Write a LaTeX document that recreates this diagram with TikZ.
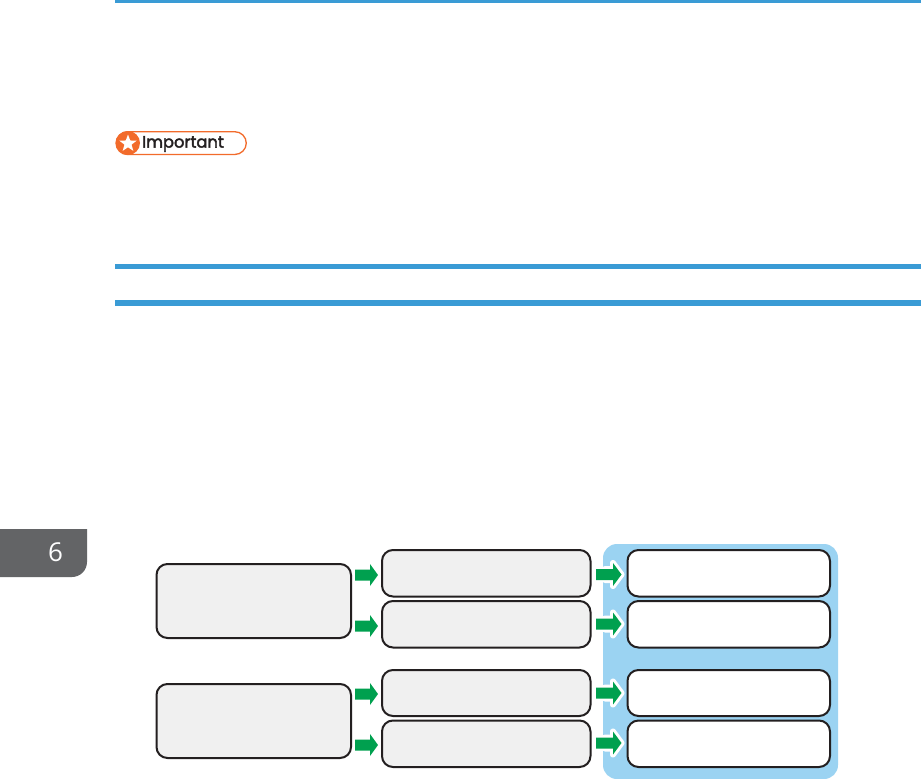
\documentclass[tikz,border=0pt]{standalone}
\usepackage{fontspec}
\setmainfont{Poppins}
\newfontfamily\tabfont{Open Sans}
\newfontfamily\badgefont[FakeBold=2.5]{Poppins}
\usetikzlibrary{shapes.geometric}
\definecolor{rulec}{HTML}{3A9BD5}
\definecolor{bluep}{HTML}{9BD3F2}
\definecolor{greya}{HTML}{F0F0F0}
\definecolor{edgec}{HTML}{231F20}
\definecolor{greenc}{HTML}{00A04F}
\definecolor{orangec}{HTML}{F26B2B}
\definecolor{tabc}{HTML}{636466}
\tikzset{
  x=1pt,y=-1pt,
  box/.style={draw=edgec,line width=2pt,rounded corners=11pt},
  grey/.style={box,fill=greya},
  whitebox/.style={box,fill=white},
  rulebar/.style={fill=rulec,draw=none},
  gr/.style={fill=greenc,draw=none},
  halo/.style={fill=white,draw=white,line width=6pt,line join=round},
}
\newcommand{\arrowshape}[2]{% tip x, centre y
  (#1-23,#2-5.5) -- (#1-8,#2-5.5) -- (#1-8,#2-11) -- (#1,#2) -- (#1-8,#2+11) -- (#1-8,#2+5.5) -- (#1-23,#2+5.5) -- cycle}
\newcommand{\rightarrowshape}[1]{% centre y; body starts on the grey box side
  (596,#1-5.5) -- (613,#1-5.5) -- (613,#1-11.5) -- (621.5,#1) -- (613,#1+11.5) -- (613,#1+5.5) -- (596,#1+5.5) -- cycle}
\newcommand{\haloshape}[1]{%
  (605,#1-5.5) -- (613,#1-5.5) -- (613,#1-11.5) -- (621.5,#1) -- (613,#1+11.5) -- (613,#1+5.5) -- (605,#1+5.5) -- cycle}
\begin{document}
\begin{tikzpicture}
\useasboundingbox (0,0) rectangle (921,779);
\fill[white] (0,0) rectangle (921,779);
\fill[rulebar] (115,0) rectangle (921,3);
\fill[rulebar] (115,263.5) rectangle (921,268.5);
\fill[rulebar] (115,300) rectangle (921,305.5);
% tab
\fill[tabc] (0,529) -- (87,529) -- (87,562) arc[start angle=0,end angle=90,radius=15] -- (0,577) -- cycle;
\node[text=white,font=\tabfont\fontsize{26}{26}\selectfont,anchor=center] (tabnum) at (55.5,552.5) {6};
% badge
\draw[orangec,line width=1.3pt,fill=white,rounded corners=11.5pt] (116,131.7) rectangle (246.3,154.5);
\fill[orangec] (128,143) circle[radius=12];
\node[star,star points=5,star point ratio=2.4,fill=white,inner sep=0pt,minimum size=18pt,draw=none] (badgestar) at (128,143.5) {};
\node[anchor=west,inner sep=0pt,text=edgec,font=\badgefont\fontsize{16.3}{16.3}\selectfont] (badgetext) at (142,144) {Important};
% panel
\fill[bluep,rounded corners=14pt] (603,544) rectangle (838,779);
% boxes
\draw[grey] (156.5,564) rectangle (351,638);
\draw[grey] (156.5,684) rectangle (351,758);
\draw[grey] (382,550) rectangle (590.5,596.5);
\draw[grey] (382,601) rectangle (590.5,647.5);
\draw[grey] (382,670) rectangle (590.5,716);
\draw[grey] (382,720.5) rectangle (590.5,767);
\draw[whitebox] (627.5,550) rectangle (830,596.5);
\draw[whitebox] (627.5,601) rectangle (830,647.5);
\draw[whitebox] (627.5,670) rectangle (830,716);
\draw[whitebox] (627.5,720.5) rectangle (830,767);
% arrows left
\fill[gr] \arrowshape{378}{575};
\fill[gr] \arrowshape{378}{626};
\fill[gr] \arrowshape{378}{694};
\fill[gr] \arrowshape{378}{745};
% arrows right
\filldraw[halo] \haloshape{574.5};
\filldraw[halo] \haloshape{624};
\filldraw[halo] \haloshape{693};
\filldraw[halo] \haloshape{743};
\fill[gr] \rightarrowshape{574.5};
\fill[gr] \rightarrowshape{624};
\fill[gr] \rightarrowshape{693};
\fill[gr] \rightarrowshape{743};
\end{tikzpicture}
\end{document}
